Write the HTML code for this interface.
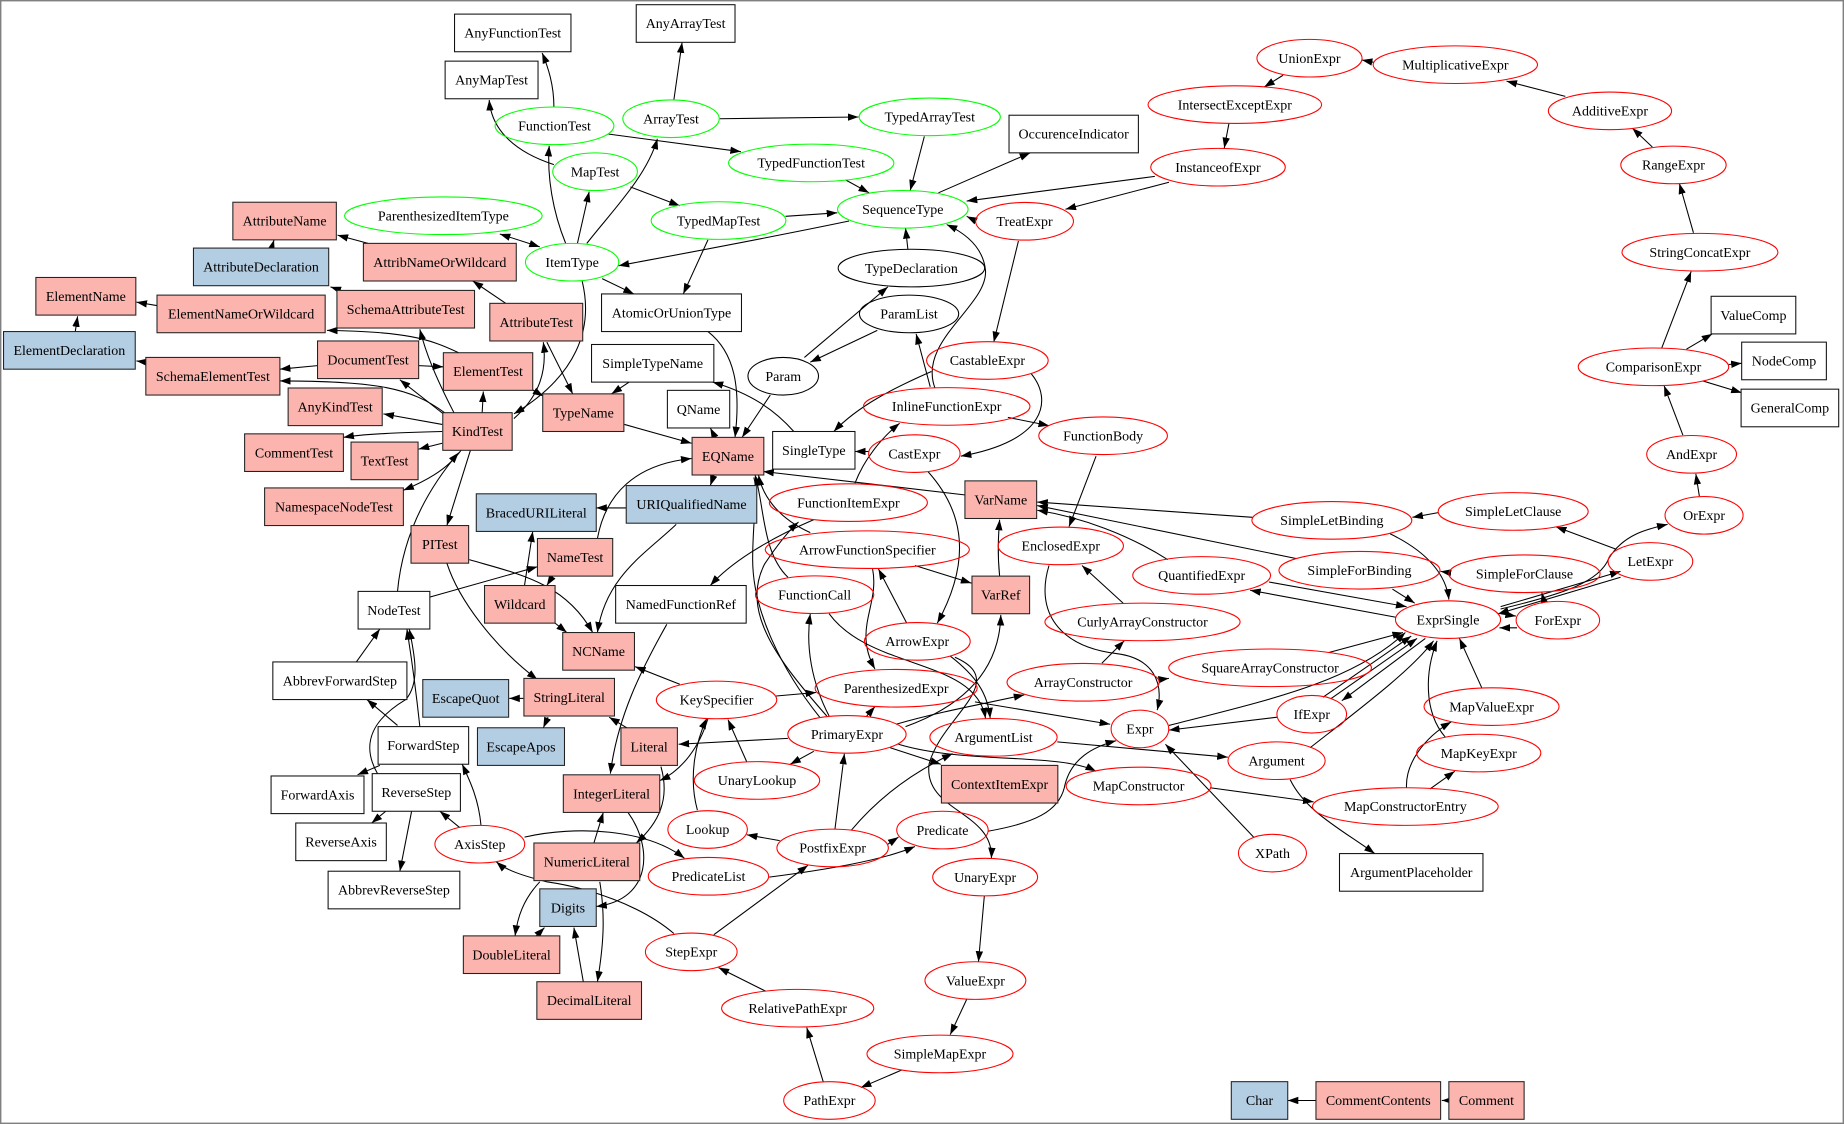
<!DOCTYPE html>
<html><head><meta charset="utf-8"><style>
html,body{margin:0;padding:0;background:#fff;}
svg{display:block;}
.e{fill:none;stroke:#000;stroke-width:0.9;marker-end:url(#a);}
.n{fill:none;stroke:#000;stroke-width:0.9;}
.d{fill:none;stroke:#000;stroke-width:0.9;marker-end:url(#a);marker-start:url(#s);}
.w{fill:#fff;stroke:#111;stroke-width:0.9;}
.p{fill:#fbb4ae;stroke:#222;stroke-width:0.9;}
.u{fill:#b3cde3;stroke:#222;stroke-width:0.9;}
.g{fill:none;stroke:#00ff00;stroke-width:0.9;}
.r{fill:none;stroke:#ff0000;stroke-width:0.9;}
.k{fill:none;stroke:#000;stroke-width:0.9;}
text{font-family:"Liberation Serif","Times New Roman",serif;font-size:11.9px;text-anchor:middle;fill:#000;}
</style></head><body>
<svg width="1844" height="1124" viewBox="0 0 1568 956" preserveAspectRatio="none" xmlns="http://www.w3.org/2000/svg">
<defs>
<marker id="a" viewBox="0 0 10 7" refX="10" refY="3.5" markerUnits="userSpaceOnUse" markerWidth="9" markerHeight="6.4" orient="auto"><path d="M0,0 L10,3.5 L0,7 z" fill="#000"/></marker>
<marker id="s" viewBox="0 0 10 7" refX="10" refY="3.5" markerUnits="userSpaceOnUse" markerWidth="9" markerHeight="6.4" orient="auto-start-reverse"><path d="M0,0 L10,3.5 L0,7 z" fill="#000"/></marker>
</defs>
<rect x="0" y="0" width="1568" height="956" fill="#fff"/>
<rect x="0.6" y="0.6" width="1566.8" height="954.8" fill="none" stroke="#808080" stroke-width="1.2"/>

<!-- edges -->
<g>
<path class="e" d="M471,91 C471,72 466,57 461,45"/>
<path class="e" d="M471,140 C440,130 418,112 416,85"/>
<path class="e" d="M481,207 C470,180 465,150 467,124"/>
<path class="e" d="M491,207 L501,163"/>
<path class="e" d="M499,207 C520,180 550,150 559,118"/>
<path class="d" d="M425,199 L459,210"/>
<path class="e" d="M722,188 C650,203 590,214 526,226"/>
<path class="e" d="M512,237 L539,250"/>
<path class="e" d="M602,204 L581,250"/>
<path class="e" d="M495,239 C505,280 490,320 437,352"/>
<path class="e" d="M437,356 C455,340 466,320 462,291"/>
<path class="e" d="M430,258 L402,239"/>
<path class="e" d="M465,291 L487,335"/>
<path class="e" d="M452,331 L462,337"/>
<path class="e" d="M313,207 L287,200"/>
<path class="e" d="M231,211 L233,204"/>
<path class="e" d="M290,247 L281,244"/>
<path class="e" d="M64,282 L66,269"/>
<path class="e" d="M134,260 L116,257"/>
<path class="e" d="M124,308 L116,307"/>
<path class="e" d="M390,300 C365,288 345,282 278,281"/>
<path class="e" d="M270,311 L238,314"/>
<path class="e" d="M356,311 L377,312"/>
<path class="e" d="M377,352 L340,323"/>
<path class="e" d="M378,351 C350,330 320,324 238,324"/>
<path class="e" d="M386,351 C370,320 362,300 357,280"/>
<path class="e" d="M410,351 L411,333"/>
<path class="e" d="M376,361 L326,352"/>
<path class="e" d="M376,367 C340,368 310,369 292,372"/>
<path class="e" d="M376,377 L356,382"/>
<path class="e" d="M392,383 C380,400 360,410 343,417"/>
<path class="e" d="M400,383 L380,447"/>
<path class="e" d="M338,503 C342,460 360,420 390,385"/>
<path class="e" d="M365,508 L457,482"/>
<path class="e" d="M380,479 C390,510 420,550 457,578"/>
<path class="e" d="M399,476 C440,488 480,495 504,538"/>
<path class="e" d="M472,530 L482,538"/>
<path class="e" d="M470,490 L465,498"/>
<path class="e" d="M446,498 L453,452"/>
<path class="e" d="M533,432 L507,432"/>
<path class="e" d="M575,446 C550,470 515,490 508,538"/>
<path class="e" d="M508,458 C515,420 540,395 588,390"/>
<path class="e" d="M608,372 L604,364"/>
<path class="e" d="M607,404 L604,413"/>
<path class="e" d="M531,361 L588,377"/>
<path class="e" d="M602,282 C625,300 630,330 625,372"/>
<path class="e" d="M535,325 L520,335"/>
<path class="e" d="M655,336 L631,372"/>
<path class="e" d="M675,367 C660,350 640,335 606,325"/>
<path class="e" d="M792,316 C760,330 730,345 709,367"/>
<path class="e" d="M739,384 L727,384"/>
<path class="e" d="M877,318 C895,340 890,375 817,388"/>
<path class="e" d="M866,205 L845,291"/>
<path class="e" d="M982,150 L822,171"/>
<path class="e" d="M994,155 L906,178"/>
<path class="e" d="M830,188 L822,184"/>
<path class="e" d="M798,164 L876,130"/>
<path class="e" d="M786,116 L774,162"/>
<path class="e" d="M719,153 L739,164"/>
<path class="e" d="M668,184 L712,181"/>
<path class="e" d="M573,85 L580,36"/>
<path class="e" d="M612,101 L730,99.5"/>
<path class="e" d="M517,114 L630,129"/>
<path class="e" d="M536,159 L578,175"/>
<path class="e" d="M772,212 L770,194"/>
<path class="e" d="M795,330 C780,290 840,260 838,230 C836,210 820,198 805,191"/>
<path class="e" d="M791,329 L779,284"/>
<path class="e" d="M746,281 L689,308"/>
<path class="e" d="M684,304 L755,244"/>
<path class="e" d="M857,355 L892,362"/>
<path class="e" d="M932,388 L909,448"/>
<path class="e" d="M727,411 C735,390 750,372 765,360"/>
<path class="e" d="M821,421 L649,401"/>
<path class="e" d="M850,490 C848,470 849,455 850,442"/>
<path class="e" d="M1065,440 L882,427"/>
<path class="e" d="M1102,475 L882,430"/>
<path class="e" d="M993,476 C960,455 920,440 882,434"/>
<path class="e" d="M778,481 L826,496"/>
<path class="e" d="M771,530 L747,484"/>
<path class="e" d="M742,484 C748,515 725,535 744,569"/>
<path class="e" d="M789,401 C815,430 830,470 797,530"/>
<path class="e" d="M770,618 C820,600 850,570 851,523"/>
<path class="e" d="M689,453 C660,440 648,420 645,404"/>
<path class="e" d="M670,491 C648,470 650,430 642,404"/>
<path class="e" d="M692,442 C650,460 620,480 604,498"/>
<path class="e" d="M703,609 C660,560 630,520 650,480 C660,465 670,452 679,444"/>
<path class="n" d="M697,610 C665,570 640,520 640,476 C640,440 645,420 641,406"/>
<path class="e" d="M567,531 C545,570 525,610 519,658"/>
<path class="e" d="M578,582 L540,567"/>
<path class="e" d="M660,592 L694,589"/>
<path class="e" d="M602,611 C595,635 580,655 561,664"/>
<path class="e" d="M593,689 C585,660 592,630 601,611"/>
<path class="e" d="M635,648 L619,612"/>
<path class="e" d="M692,639 L672,650"/>
<path class="e" d="M670,628 L577,633"/>
<path class="e" d="M533,619 L518,610"/>
<path class="e" d="M445,594 L433,594"/>
<path class="e" d="M466,610 L462,619"/>
<path class="e" d="M562,652 C570,680 560,700 541,717"/>
<path class="e" d="M505,717 L513,691"/>
<path class="e" d="M459,750 C445,765 440,780 438,796"/>
<path class="e" d="M510,750 C515,780 513,805 508,835"/>
<path class="e" d="M534,691 C555,720 555,765 507,771"/>
<path class="e" d="M456,796 L463,789"/>
<path class="e" d="M496,835 L488,789"/>
<path class="e" d="M391,704 L374,690"/>
<path class="e" d="M409,702 C407,680 400,665 393,650"/>
<path class="e" d="M446,712 C490,702 550,705 582,730"/>
<path class="e" d="M573,794 C545,770 500,755 465,750 C445,745 430,740 422,733"/>
<path class="e" d="M607,795 L687,736"/>
<path class="e" d="M663,715 L635,710"/>
<path class="e" d="M710,705 L718,641"/>
<path class="e" d="M755,718 L764,712"/>
<path class="e" d="M724,706 C750,675 780,655 810,641"/>
<path class="e" d="M654,746 C700,740 750,732 778,720"/>
<path class="e" d="M651,843 L611,823"/>
<path class="e" d="M700,920 L686,874"/>
<path class="e" d="M767,910 L732,925"/>
<path class="e" d="M822,850 L808,880"/>
<path class="e" d="M837,762 L832,818"/>
<path class="e" d="M812,559 C860,580 800,610 790,650 C785,690 845,690 843,730"/>
<path class="e" d="M808,558 C830,575 840,590 842,611"/>
<path class="e" d="M705,522 C740,570 830,560 838,611"/>
<path class="e" d="M705,609 C690,580 685,550 689,522"/>
<path class="e" d="M737,609 L744,601"/>
<path class="e" d="M762,616 C800,605 840,598 871,591"/>
<path class="e" d="M757,636 L800,650"/>
<path class="e" d="M764,633 C820,650 900,640 932,656"/>
<path class="e" d="M829,597 L944,616"/>
<path class="e" d="M899,631 L1044,644"/>
<path class="e" d="M840,707 C880,700 900,690 905,670 C910,645 930,635 949,630"/>
<path class="e" d="M1066,712 L991,633"/>
<path class="e" d="M1086,610 L994,621"/>
<path class="e" d="M994,617 C1080,595 1150,580 1195,538"/>
<path class="e" d="M1125,593 L1200,541"/>
<path class="e" d="M1132,594 L1205,543"/>
<path class="e" d="M1212,543 L1141,596"/>
<path class="e" d="M1114,636 C1160,600 1200,570 1219,545"/>
<path class="e" d="M1130,555 L1193,538"/>
<path class="e" d="M1229,627 C1210,605 1212,570 1222,545"/>
<path class="e" d="M1260,585 L1241,543"/>
<path class="e" d="M1182,454 C1215,470 1230,490 1232,510"/>
<path class="e" d="M1184,501 L1203,513"/>
<path class="e" d="M1079,495 L1196,516"/>
<path class="e" d="M1187,525 L1063,502"/>
<path class="e" d="M1232,487 L1225,486"/>
<path class="e" d="M1223,436 L1201,440"/>
<path class="e" d="M1313,512 L1311,504"/>
<path class="e" d="M1276,522 L1289,524"/>
<path class="e" d="M1290,534 L1275,534"/>
<path class="e" d="M1378,491 L1274,522"/>
<path class="e" d="M1276,516 L1378,486"/>
<path class="e" d="M1276,518 C1330,505 1360,495 1368,475 C1380,455 1400,450 1418,446"/>
<path class="e" d="M1374,467 L1323,448"/>
<path class="e" d="M1445,422 L1442,403"/>
<path class="e" d="M1431,370 L1415,328"/>
<path class="e" d="M1413,296 L1438,231"/>
<path class="e" d="M1434,297 L1456,284"/>
<path class="e" d="M1470,310 L1481,309"/>
<path class="e" d="M1448,324 L1481,334"/>
<path class="e" d="M1440,198 L1428,156"/>
<path class="e" d="M1405,125 L1388,109"/>
<path class="e" d="M1331,82 L1281,69"/>
<path class="e" d="M1168,53 L1158,51"/>
<path class="e" d="M1091,64 L1075,74"/>
<path class="e" d="M1045,105 L1041,126"/>
<path class="e" d="M937,564 L956,545"/>
<path class="e" d="M986,578 L994,577"/>
<path class="e" d="M955,513 L920,481"/>
<path class="e" d="M892,481 C880,520 900,550 950,556 C980,560 990,580 984,604"/>
<path class="e" d="M1029,670 L1117,682"/>
<path class="e" d="M1196,670 C1195,650 1210,628 1234,614"/>
<path class="e" d="M1216,671 L1237,656"/>
<path class="e" d="M1097,663 C1110,690 1140,705 1169,726"/>
<path class="e" d="M1119,936 L1095,936"/>
<path class="e" d="M1232,936 L1226,936"/>
<path class="e" d="M357,618 C354,590 350,560 346,535"/>
<path class="e" d="M321,658 C305,630 320,610 345,595 C358,580 352,555 348,535"/>
<path class="e" d="M303,563 L323,535"/>
<path class="e" d="M338,617 L312,595"/>
<path class="e" d="M323,651 L304,659"/>
<path class="e" d="M328,690 L316,700"/>
<path class="e" d="M350,690 L340,741"/>
</g>

<!-- box nodes -->
<g>
<rect class="w" x="386.5" y="12" width="99" height="32"/><text x="436" y="32">AnyFunctionTest</text>
<rect class="w" x="378.5" y="52" width="79" height="32"/><text x="418" y="72">AnyMapTest</text>
<rect class="w" x="541" y="4" width="84" height="32"/><text x="583" y="24">AnyArrayTest</text>
<rect class="w" x="858" y="98" width="110" height="32"/><text x="913" y="118">OccurenceIndicator</text>
<rect class="w" x="511.5" y="250" width="119" height="32"/><text x="571" y="270">AtomicOrUnionType</text>
<rect class="w" x="503" y="293" width="104" height="32"/><text x="555" y="313">SimpleTypeName</text>
<rect class="w" x="567.5" y="332" width="53" height="32"/><text x="594" y="352">QName</text>
<rect class="p" x="588.5" y="372" width="61" height="32"/><text x="619" y="392">EQName</text>
<rect class="w" x="657" y="367" width="70" height="32"/><text x="692" y="387">SingleType</text>
<rect class="p" x="820.5" y="409" width="61" height="32"/><text x="851" y="429">VarName</text>
<rect class="u" x="532.5" y="413" width="111" height="32"/><text x="588" y="433">URIQualifiedName</text>
<rect class="w" x="1455" y="252" width="72" height="32"/><text x="1491" y="272">ValueComp</text>
<rect class="w" x="1481" y="291" width="72" height="32"/><text x="1517" y="311">NodeComp</text>
<rect class="w" x="1480.5" y="331" width="83" height="32"/><text x="1522" y="351">GeneralComp</text>
<rect class="w" x="1139" y="726" width="122" height="32"/><text x="1200" y="746">ArgumentPlaceholder</text>
<rect class="u" x="1047" y="920" width="48" height="32"/><text x="1071" y="940">Char</text>
<rect class="p" x="1119" y="920" width="106" height="32"/><text x="1172" y="940">CommentContents</text>
<rect class="p" x="1232" y="920" width="64" height="32"/><text x="1264" y="940">Comment</text>
<rect class="p" x="826.5" y="490" width="49" height="32"/><text x="851" y="510">VarRef</text>
<rect class="w" x="523.5" y="498" width="111" height="32"/><text x="579" y="518">NamedFunctionRef</text>
<rect class="p" x="478.5" y="538" width="61" height="32"/><text x="509" y="558">NCName</text>
<rect class="p" x="528" y="619" width="48" height="32"/><text x="552" y="639">Literal</text>
<rect class="p" x="800.5" y="651" width="99" height="32"/><text x="850" y="671">ContextItemExpr</text>
<rect class="w" x="304.5" y="503" width="61" height="32"/><text x="335" y="523">NodeTest</text>
<rect class="w" x="232" y="563" width="114" height="32"/><text x="289" y="583">AbbrevForwardStep</text>
<rect class="u" x="359.5" y="578" width="73" height="32"/><text x="396" y="598">EscapeQuot</text>
<rect class="p" x="445.5" y="577" width="77" height="32"/><text x="484" y="597">StringLiteral</text>
<rect class="w" x="321.5" y="618" width="77" height="32"/><text x="360" y="638">ForwardStep</text>
<rect class="u" x="406" y="619" width="74" height="32"/><text x="443" y="639">EscapeApos</text>
<rect class="w" x="230.5" y="660" width="79" height="32"/><text x="270" y="680">ForwardAxis</text>
<rect class="w" x="316.5" y="658" width="75" height="32"/><text x="354" y="678">ReverseStep</text>
<rect class="p" x="479" y="659" width="82" height="32"/><text x="520" y="679">IntegerLiteral</text>
<rect class="w" x="251.5" y="700" width="77" height="32"/><text x="290" y="720">ReverseAxis</text>
<rect class="p" x="454" y="717" width="90" height="32"/><text x="499" y="737">NumericLiteral</text>
<rect class="w" x="279" y="741" width="112" height="32"/><text x="335" y="761">AbbrevReverseStep</text>
<rect class="u" x="459" y="756" width="48" height="32"/><text x="483" y="776">Digits</text>
<rect class="p" x="394" y="796" width="82" height="32"/><text x="435" y="816">DoubleLiteral</text>
<rect class="p" x="456.5" y="835" width="89" height="32"/><text x="501" y="855">DecimalLiteral</text>
<rect class="p" x="198" y="172" width="88" height="32"/><text x="242" y="192">AttributeName</text>
<rect class="u" x="164.5" y="211" width="115" height="32"/><text x="222" y="231">AttributeDeclaration</text>
<rect class="p" x="309" y="207" width="130" height="32"/><text x="374" y="227">AttribNameOrWildcard</text>
<rect class="p" x="30.5" y="236" width="85" height="32"/><text x="73" y="256">ElementName</text>
<rect class="p" x="133.5" y="251" width="143" height="32"/><text x="205" y="271">ElementNameOrWildcard</text>
<rect class="p" x="286.5" y="247" width="117" height="32"/><text x="345" y="267">SchemaAttributeTest</text>
<rect class="p" x="416.5" y="258" width="79" height="32"/><text x="456" y="278">AttributeTest</text>
<rect class="u" x="3" y="282" width="112" height="32"/><text x="59" y="302">ElementDeclaration</text>
<rect class="p" x="270" y="290" width="86" height="32"/><text x="313" y="310">DocumentTest</text>
<rect class="p" x="124" y="304" width="114" height="32"/><text x="181" y="324">SchemaElementTest</text>
<rect class="p" x="377" y="300" width="76" height="32"/><text x="415" y="320">ElementTest</text>
<rect class="p" x="461.5" y="335" width="69" height="32"/><text x="496" y="355">TypeName</text>
<rect class="p" x="245" y="330" width="80" height="32"/><text x="285" y="350">AnyKindTest</text>
<rect class="p" x="376.5" y="351" width="59" height="32"/><text x="406" y="371">KindTest</text>
<rect class="p" x="208" y="369" width="84" height="32"/><text x="250" y="389">CommentTest</text>
<rect class="p" x="298.5" y="376" width="57" height="32"/><text x="327" y="396">TextTest</text>
<rect class="p" x="225" y="415" width="118" height="32"/><text x="284" y="435">NamespaceNodeTest</text>
<rect class="u" x="405" y="420" width="102" height="32"/><text x="456" y="440">BracedURILiteral</text>
<rect class="p" x="349.5" y="447" width="49" height="32"/><text x="374" y="467">PITest</text>
<rect class="p" x="457" y="458" width="64" height="32"/><text x="489" y="478">NameTest</text>
<rect class="p" x="412" y="498" width="60" height="32"/><text x="442" y="518">Wildcard</text>
</g>

<!-- ellipse nodes -->
<g>
<ellipse class="g" cx="471.5" cy="107" rx="50.5" ry="16"/><text x="471.5" y="111">FunctionTest</text>
<ellipse class="g" cx="506" cy="146" rx="36" ry="16"/><text x="506" y="150">MapTest</text>
<ellipse class="g" cx="570.6" cy="101" rx="41" ry="16"/><text x="570.6" y="105">ArrayTest</text>
<ellipse class="g" cx="790.6" cy="99.4" rx="60" ry="16"/><text x="790.6" y="103.4">TypedArrayTest</text>
<ellipse class="g" cx="689.8" cy="138.6" rx="70.3" ry="16"/><text x="689.8" y="142.6">TypedFunctionTest</text>
<ellipse class="g" cx="767.7" cy="178" rx="55.5" ry="16"/><text x="767.7" y="182">SequenceType</text>
<ellipse class="g" cx="611" cy="187.6" rx="57.3" ry="16"/><text x="611" y="191.6">TypedMapTest</text>
<ellipse class="g" cx="377" cy="183.5" rx="84" ry="16"/><text x="377" y="187.5">ParenthesizedItemType</text>
<ellipse class="g" cx="486.5" cy="223" rx="39.7" ry="16"/><text x="486.5" y="227">ItemType</text>
<ellipse class="r" cx="871.2" cy="188.2" rx="41.6" ry="16"/><text x="871.2" y="192.2">TreatExpr</text>
<ellipse class="k" cx="775" cy="228" rx="62.3" ry="16"/><text x="775" y="232">TypeDeclaration</text>
<ellipse class="k" cx="773" cy="267" rx="42.2" ry="16"/><text x="773" y="271">ParamList</text>
<ellipse class="k" cx="666" cy="320" rx="30" ry="16"/><text x="666" y="324">Param</text>
<ellipse class="r" cx="839.6" cy="306.6" rx="51.7" ry="16"/><text x="839.6" y="310.6">CastableExpr</text>
<ellipse class="r" cx="805" cy="345.7" rx="70.8" ry="16"/><text x="805" y="349.7">InlineFunctionExpr</text>
<ellipse class="r" cx="938" cy="370.6" rx="54.7" ry="16"/><text x="938" y="374.6">FunctionBody</text>
<ellipse class="r" cx="777.5" cy="385.8" rx="38.9" ry="16"/><text x="777.5" y="389.8">CastExpr</text>
<ellipse class="r" cx="721.4" cy="427.5" rx="67.2" ry="16"/><text x="721.4" y="431.5">FunctionItemExpr</text>
<ellipse class="r" cx="902" cy="464.3" rx="53.3" ry="16"/><text x="902" y="468.3">EnclosedExpr</text>
<ellipse class="r" cx="737.5" cy="467.5" rx="86.8" ry="16"/><text x="737.5" y="471.5">ArrowFunctionSpecifier</text>
<ellipse class="r" cx="1113.5" cy="49.5" rx="44.7" ry="16"/><text x="1113.5" y="53.5">UnionExpr</text>
<ellipse class="r" cx="1237.5" cy="55" rx="69.9" ry="16"/><text x="1237.5" y="59">MultiplicativeExpr</text>
<ellipse class="r" cx="1050" cy="89" rx="73.8" ry="16"/><text x="1050" y="93">IntersectExceptExpr</text>
<ellipse class="r" cx="1035.7" cy="142.2" rx="57.2" ry="16"/><text x="1035.7" y="146.2">InstanceofExpr</text>
<ellipse class="r" cx="1369" cy="94.3" rx="52.4" ry="16"/><text x="1369" y="98.3">AdditiveExpr</text>
<ellipse class="r" cx="1423" cy="140.3" rx="44.8" ry="16"/><text x="1423" y="144.3">RangeExpr</text>
<ellipse class="r" cx="1445.5" cy="214.5" rx="66.3" ry="16"/><text x="1445.5" y="218.5">StringConcatExpr</text>
<ellipse class="r" cx="1406" cy="312" rx="64" ry="16"/><text x="1406" y="316">ComparisonExpr</text>
<ellipse class="r" cx="1438.4" cy="386.4" rx="38.2" ry="16"/><text x="1438.4" y="390.4">AndExpr</text>
<ellipse class="r" cx="1449" cy="438.3" rx="33.2" ry="16"/><text x="1449" y="442.3">OrExpr</text>
<ellipse class="r" cx="1132.5" cy="442.6" rx="68" ry="16"/><text x="1132.5" y="446.6">SimpleLetBinding</text>
<ellipse class="r" cx="1286.7" cy="435" rx="63.8" ry="16"/><text x="1286.7" y="439">SimpleLetClause</text>
<ellipse class="r" cx="1403.4" cy="477.5" rx="36" ry="16"/><text x="1403.4" y="481.5">LetExpr</text>
<ellipse class="r" cx="1156" cy="485" rx="68.5" ry="16"/><text x="1156" y="489">SimpleForBinding</text>
<ellipse class="r" cx="1296.3" cy="488" rx="64.3" ry="16"/><text x="1296.3" y="492">SimpleForClause</text>
<ellipse class="r" cx="1231.3" cy="527" rx="44.7" ry="16"/><text x="1231.3" y="531">ExprSingle</text>
<ellipse class="r" cx="1324.7" cy="527.5" rx="35.5" ry="16"/><text x="1324.7" y="531.5">ForExpr</text>
<ellipse class="r" cx="1021.8" cy="489.4" rx="58.6" ry="16"/><text x="1021.8" y="493.4">QuantifiedExpr</text>
<ellipse class="r" cx="1080" cy="568" rx="86.2" ry="16"/><text x="1080" y="572">SquareArrayConstructor</text>
<ellipse class="r" cx="1115.4" cy="607.5" rx="29.6" ry="16"/><text x="1115.4" y="611.5">IfExpr</text>
<ellipse class="r" cx="1268.3" cy="601" rx="57.4" ry="16"/><text x="1268.3" y="605">MapValueExpr</text>
<ellipse class="r" cx="1085.5" cy="647" rx="41.3" ry="16"/><text x="1085.5" y="651">Argument</text>
<ellipse class="r" cx="1257.4" cy="640.5" rx="52.8" ry="16"/><text x="1257.4" y="644.5">MapKeyExpr</text>
<ellipse class="r" cx="1195" cy="686" rx="79" ry="16"/><text x="1195" y="690">MapConstructorEntry</text>
<ellipse class="r" cx="1082" cy="725.6" rx="28.9" ry="16"/><text x="1082" y="729.6">XPath</text>
<ellipse class="r" cx="692.7" cy="505.8" rx="50.3" ry="16"/><text x="692.7" y="509.8">FunctionCall</text>
<ellipse class="r" cx="971.5" cy="529" rx="83" ry="16"/><text x="971.5" y="533">CurlyArrayConstructor</text>
<ellipse class="r" cx="780" cy="545.5" rx="45" ry="16"/><text x="780" y="549.5">ArrowExpr</text>
<ellipse class="r" cx="762" cy="585.4" rx="68.9" ry="16"/><text x="762" y="589.4">ParenthesizedExpr</text>
<ellipse class="r" cx="921" cy="580.3" rx="64.7" ry="16"/><text x="921" y="584.3">ArrayConstructor</text>
<ellipse class="r" cx="609.3" cy="595.3" rx="51.2" ry="16"/><text x="609.3" y="599.3">KeySpecifier</text>
<ellipse class="r" cx="720.2" cy="624.6" rx="50.3" ry="16"/><text x="720.2" y="628.6">PrimaryExpr</text>
<ellipse class="r" cx="844.8" cy="627.1" rx="54.1" ry="16"/><text x="844.8" y="631.1">ArgumentList</text>
<ellipse class="r" cx="969.3" cy="620" rx="24.5" ry="16"/><text x="969.3" y="624">Expr</text>
<ellipse class="r" cx="643.7" cy="663.8" rx="53.3" ry="16"/><text x="643.7" y="667.8">UnaryLookup</text>
<ellipse class="r" cx="968.2" cy="668.5" rx="61.6" ry="16"/><text x="968.2" y="672.5">MapConstructor</text>
<ellipse class="r" cx="601.7" cy="705.5" rx="33.8" ry="16"/><text x="601.7" y="709.5">Lookup</text>
<ellipse class="r" cx="708" cy="721.2" rx="47.4" ry="16"/><text x="708" y="725.2">PostfixExpr</text>
<ellipse class="r" cx="801.4" cy="706" rx="38.9" ry="16"/><text x="801.4" y="710">Predicate</text>
<ellipse class="r" cx="602.4" cy="745.3" rx="51.2" ry="16"/><text x="602.4" y="749.3">PredicateList</text>
<ellipse class="r" cx="837.7" cy="746" rx="44.6" ry="16"/><text x="837.7" y="750">UnaryExpr</text>
<ellipse class="r" cx="587.8" cy="809.6" rx="39" ry="16"/><text x="587.8" y="813.6">StepExpr</text>
<ellipse class="r" cx="829.4" cy="834" rx="42.9" ry="16"/><text x="829.4" y="838">ValueExpr</text>
<ellipse class="r" cx="678.3" cy="857.5" rx="64.7" ry="16"/><text x="678.3" y="861.5">RelativePathExpr</text>
<ellipse class="r" cx="799.3" cy="896.4" rx="62.1" ry="16"/><text x="799.3" y="900.4">SimpleMapExpr</text>
<ellipse class="r" cx="705.3" cy="936" rx="38.9" ry="16"/><text x="705.3" y="940">PathExpr</text>
<ellipse class="r" cx="408" cy="718" rx="38.2" ry="16"/><text x="408" y="722">AxisStep</text>
</g>
</svg>
</body></html>
